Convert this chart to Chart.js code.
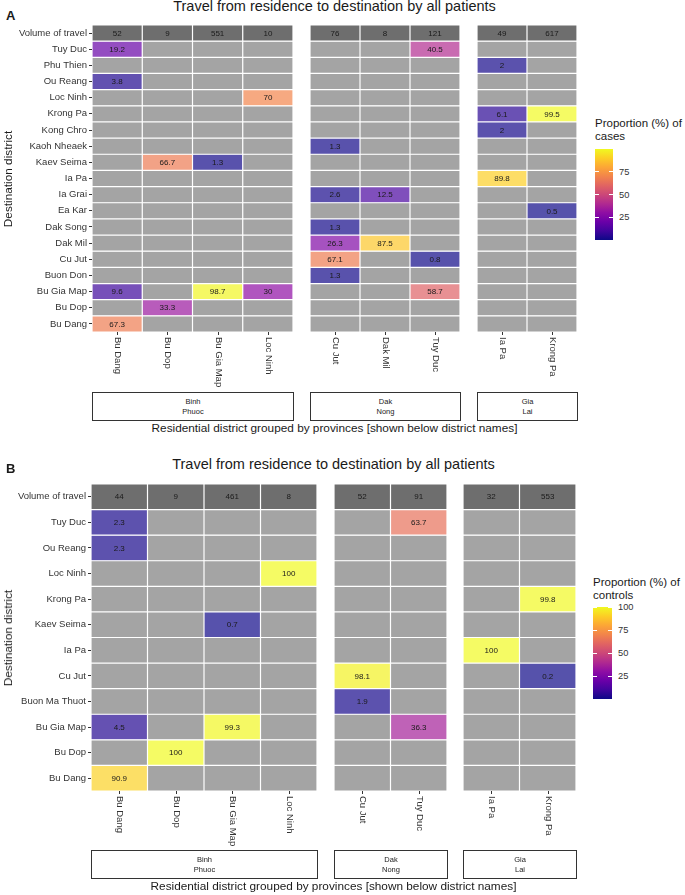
<!DOCTYPE html>
<html>
<head>
<meta charset="utf-8">
<script src="https://cdn.jsdelivr.net/npm/chart.js@4.4.0/dist/chart.umd.min.js"></script>
<style>
  body { margin: 0; background: #fff; font-family: "Liberation Sans", Arial, sans-serif; color: #1a1a1a; }
  #fig { position: relative; width: 685px; height: 895px; overflow: hidden; }
  #fig canvas { position: absolute; }
  .abs { position: absolute; white-space: nowrap; }
  .tag { font-weight: bold; font-size: 13px; }
  .title { font-size: 14.5px; transform: translateX(-50%); }
  .strip { position: absolute; border: 1px solid #333; box-sizing: border-box; font-size: 7.5px; line-height: 10px;
           display: flex; align-items: center; justify-content: center; text-align: center; white-space: pre; }
  .xtitle { font-size: 11.8px; transform: translate(-50%, -50%); }
  .ytitle { font-size: 11.8px; transform: translate(-50%, -50%) rotate(-90deg); }
  .ltitle { font-size: 11.5px; line-height: 13px; }
  .ltick { font-size: 9.3px; color: #333; transform: translateY(-50%); }
  .ltickmark { position: absolute; height: 1px; background: #fff; width: 4px; }
</style>
</head>
<body>
<div id="fig"></div>
<script>
// ---- data: panel A (cases) ----
const destA = ['Tuy Duc', 'Phu Thien', 'Ou Reang', 'Loc Ninh', 'Krong Pa', 'Kong Chro', 'Kaoh Nheaek', 'Kaev Seima',
  'Ia Pa', 'Ia Grai', 'Ea Kar', 'Dak Song', 'Dak Mil', 'Cu Jut', 'Buon Don', 'Bu Gia Map', 'Bu Dop', 'Bu Dang'];
const provinces = ['Binh\nPhuoc', 'Dak\nNong', 'Gia\nLai'];
const colsA = [['Bu Dang', 'Bu Dop', 'Bu Gia Map', 'Loc Ninh'], ['Cu Jut', 'Dak Mil', 'Tuy Duc'], ['Ia Pa', 'Krong Pa']];
const volumeA = [[52, 9, 551, 10], [76, 8, 121], [49, 617]];
const n = null;
const casesBuDang   = [19.2, n, 3.8, n, n, n, n, n, n, n, n, n, n, n, n, 9.6, n, 67.3];
const casesBuDop    = [n, n, n, n, n, n, n, 66.7, n, n, n, n, n, n, n, n, 33.3, n];
const casesBuGiaMap = [n, n, n, n, n, n, n, 1.3, n, n, n, n, n, n, n, 98.7, n, n];
const casesLocNinh  = [n, n, n, 70, n, n, n, n, n, n, n, n, n, n, n, 30, n, n];
const casesCuJut    = [n, n, n, n, n, n, 1.3, n, n, 2.6, n, 1.3, 26.3, 67.1, 1.3, n, n, n];
const casesDakMil   = [n, n, n, n, n, n, n, n, n, 12.5, n, n, 87.5, n, n, n, n, n];
const casesTuyDuc   = [40.5, n, n, n, n, n, n, n, n, n, n, n, n, 0.8, n, 58.7, n, n];
const casesIaPa     = [n, 2, n, n, 6.1, 2, n, n, 89.8, n, n, n, n, n, n, n, n, n];
const casesKrongPa  = [n, n, n, n, 99.5, n, n, n, n, n, 0.5, n, n, n, n, n, n, n];
const ticksA = [25, 50, 75];

// ---- data: panel B (controls) ----
const destB = ['Tuy Duc', 'Ou Reang', 'Loc Ninh', 'Krong Pa', 'Kaev Seima', 'Ia Pa', 'Cu Jut', 'Buon Ma Thuot',
  'Bu Gia Map', 'Bu Dop', 'Bu Dang'];
const colsB = [['Bu Dang', 'Bu Dop', 'Bu Gia Map', 'Loc Ninh'], ['Cu Jut', 'Tuy Duc'], ['Ia Pa', 'Krong Pa']];
const volumeB = [[44, 9, 461, 8], [52, 91], [32, 553]];
const ctrlBuDang   = [2.3, 2.3, n, n, n, n, n, n, 4.5, n, 90.9];
const ctrlBuDop    = [n, n, n, n, n, n, n, n, n, 100, n];
const ctrlBuGiaMap = [n, n, n, n, 0.7, n, n, n, 99.3, n, n];
const ctrlLocNinh  = [n, n, 100, n, n, n, n, n, n, n, n];
const ctrlCuJut    = [n, n, n, n, n, n, 98.1, 1.9, n, n, n];
const ctrlTuyDuc   = [63.7, n, n, n, n, n, n, n, 36.3, n, n];
const ctrlIaPa     = [n, n, n, n, n, 100, n, n, n, n, n];
const ctrlKrongPa  = [n, n, n, 99.8, n, n, 0.2, n, n, n, n];
const ticksB = [25, 50, 75, 100];

const FONT = '"Liberation Sans", Arial, sans-serif';
const VOL_FILL = '#6e6e6e';
const NA_FILL = '#a4a4a4';
const PLASMA = ['#0d0887', '#41049d', '#6a00a8', '#8f0da4', '#b12a90', '#cc4778', '#e16462', '#f2844b', '#fca636', '#fcce25', '#f0f921'];

const hex = h => [1, 3, 5].map(i => parseInt(h.slice(i, i + 2), 16));

function plasma(t) {
  t = Math.max(0, Math.min(1, t));
  const p = t * 10, i = Math.min(9, Math.floor(p)), f = p - i;
  const a = hex(PLASMA[i]), b = hex(PLASMA[i + 1]);
  return a.map((v, k) => v + (b[k] - v) * f);
}

function cellColor(v, lo, hi) {
  const c = plasma((v - lo) / (hi - lo));
  const m = c.map(x => Math.round(x * 0.7 + 255 * 0.3));
  return `rgb(${m[0]},${m[1]},${m[2]})`;
}

const fig = document.getElementById('fig');

function addDiv(cls, text, style) {
  const d = document.createElement('div');
  d.className = cls;
  d.textContent = text;
  Object.assign(d.style, style);
  fig.appendChild(d);
  return d;
}

const cellText = {
  id: 'cellText',
  afterDatasetsDraw(chart) {
    const { ctx } = chart;
    const ds = chart.data.datasets[0];
    ctx.save();
    ctx.font = `8px ${FONT}`;
    ctx.fillStyle = '#1a1a1a';
    ctx.textAlign = 'center';
    ctx.textBaseline = 'middle';
    chart.getDatasetMeta(0).data.forEach((el, i) => {
      const t = ds.texts[i];
      if (!t) return;
      const p = el.getCenterPoint();
      ctx.fillText(t, p.x, p.y + 0.5);
    });
    ctx.restore();
  }
};

const xLabels = {
  id: 'xLabels',
  afterDraw(chart, args, opts) {
    const { ctx, chartArea, scales: { x } } = chart;
    ctx.save();
    ctx.strokeStyle = '#333';
    ctx.fillStyle = '#333';
    ctx.lineWidth = 1;
    ctx.font = `9.5px ${FONT}`;
    opts.cols.forEach((c, i) => {
      const px = Math.round(x.getPixelForValue(i)) + 0.5;
      ctx.beginPath();
      ctx.moveTo(px, chartArea.bottom);
      ctx.lineTo(px, chartArea.bottom + 3);
      ctx.stroke();
      ctx.save();
      ctx.translate(px, chartArea.bottom + 5);
      ctx.rotate(Math.PI / 2);
      ctx.textAlign = 'left';
      ctx.textBaseline = 'middle';
      ctx.fillText(c, 0, 0);
      ctx.restore();
    });
    ctx.restore();
  }
};

function facetChart(box, rows, cols, vols, vals, lo, hi, withY, yw) {
  const cv = document.createElement('canvas');
  const left = withY ? 0 : box.x0;
  cv.width = box.x1 - left;
  cv.height = box.bottom - box.top + 60;
  cv.style.left = left + 'px';
  cv.style.top = box.top + 'px';
  fig.appendChild(cv);

  const cells = [], colors = [], texts = [];
  cols.forEach((c, i) => {
    cells.push({ x: [i - 0.5, i + 0.5], y: rows[0] });
    colors.push(VOL_FILL);
    texts.push(String(vols[i]));
    vals[i].forEach((v, r) => {
      cells.push({ x: [i - 0.5, i + 0.5], y: rows[r + 1] });
      colors.push(v == null ? NA_FILL : cellColor(v, lo, hi));
      texts.push(v == null ? '' : String(v));
    });
  });

  return new Chart(cv, {
    type: 'bar',
    data: {
      labels: rows,
      datasets: [{
        data: cells, texts, backgroundColor: colors, borderColor: '#ffffff', borderWidth: 0.6,
        borderSkipped: false, inflateAmount: 0, barPercentage: 1, categoryPercentage: 1
      }]
    },
    options: {
      indexAxis: 'y', responsive: false, animation: false, events: [],
      layout: { padding: 0 },
      plugins: { legend: { display: false }, tooltip: { enabled: false }, xLabels: { cols } },
      scales: {
        x: {
          type: 'linear', min: -0.5, max: cols.length - 0.5,
          grid: { display: false }, border: { display: false }, ticks: { display: false },
          afterFit(s) { s.height = 60; s.paddingLeft = 0; s.paddingRight = 0; }
        },
        y: {
          type: 'category', display: withY, offset: true,
          grid: { display: true, drawOnChartArea: false, drawTicks: true, tickLength: 3, color: '#333', offset: false },
          border: { display: false },
          ticks: { font: { size: 9.5, family: FONT }, color: '#333', padding: 2, autoSkip: false },
          afterFit(s) { s.width = withY ? yw : 0; s.paddingTop = 0; s.paddingBottom = 0; }
        }
      }
    },
    plugins: [cellText, xLabels]
  });
}

function legend(L, title, lo, hi, ticks) {
  const t = addDiv('abs ltitle', title, { left: L.x + 'px', top: L.titleTop + 'px' });
  t.style.whiteSpace = 'pre';
  const stops = PLASMA.map((c, i) => `${c} ${i * 10}%`).join(',');
  addDiv('abs', '', { left: L.x + 'px', top: L.top + 'px', width: L.w + 'px', height: (L.bottom - L.top) + 'px',
    background: `linear-gradient(to top, ${stops})` });
  ticks.forEach(v => {
    const y = L.top + (hi - v) / (hi - lo) * (L.bottom - L.top);
    addDiv('ltickmark', '', { left: L.x + 'px', top: (y - 0.5) + 'px' });
    addDiv('ltickmark', '', { left: (L.x + L.w - 4) + 'px', top: (y - 0.5) + 'px' });
    addDiv('abs ltick', String(v), { left: (L.x + L.w + 6) + 'px', top: y + 'px' });
  });
}

function panel(P) {
  const all = P.vals.flat(2).filter(v => v != null);
  const lo = Math.min(...all);
  const hi = Math.max(...all);
  const rows = ['Volume of travel', ...P.dest];
  P.cols.forEach((cols, f) => {
    const box = { x0: P.facets[f][0], x1: P.facets[f][1], top: P.top, bottom: P.bottom };
    facetChart(box, rows, cols, P.vols[f], P.vals[f], lo, hi, f === 0, P.facets[0][0]);
    addDiv('strip', provinces[f], { left: box.x0 + 'px', top: P.stripTop + 'px',
      width: (box.x1 - box.x0 + 1) + 'px', height: '29px' });
  });
  addDiv('abs tag', P.tag, { left: '6px', top: P.tagTop + 'px' });
  const cx = (P.facets[0][0] + P.facets[2][1]) / 2;
  addDiv('abs title', 'Travel from residence to destination by all patients', { left: cx + 'px', top: P.titleTop + 'px' });
  addDiv('abs xtitle', 'Residential district grouped by provinces [shown below district names]', { left: cx + 'px', top: P.xTitleY + 'px' });
  addDiv('abs ytitle', 'Destination district', { left: '8px', top: ((P.top + P.bottom) / 2) + 'px' });
  legend(P.legend, P.legendTitle, lo, hi, P.ticks);
}

panel({
  tag: 'A', tagTop: 8, titleTop: -2, top: 25, bottom: 332, stripTop: 392, xTitleY: 428,
  dest: destA, cols: colsA, vols: volumeA,
  vals: [[casesBuDang, casesBuDop, casesBuGiaMap, casesLocNinh], [casesCuJut, casesDakMil, casesTuyDuc], [casesIaPa, casesKrongPa]],
  facets: [[92, 293], [310, 460], [477, 577]],
  legendTitle: 'Proportion (%) of\ncases', ticks: ticksA,
  legend: { x: 595, w: 18, top: 149, bottom: 240, titleTop: 117 }
});

panel({
  tag: 'B', tagTop: 461, titleTop: 456, top: 484, bottom: 791, stripTop: 850, xTitleY: 886,
  dest: destB, cols: colsB, vols: volumeB,
  vals: [[ctrlBuDang, ctrlBuDop, ctrlBuGiaMap, ctrlLocNinh], [ctrlCuJut, ctrlTuyDuc], [ctrlIaPa, ctrlKrongPa]],
  facets: [[91, 317], [334, 447], [463, 576]],
  legendTitle: 'Proportion (%) of\ncontrols', ticks: ticksB,
  legend: { x: 593, w: 19, top: 607, bottom: 699, titleTop: 576 }
});
</script>
</body>
</html>
